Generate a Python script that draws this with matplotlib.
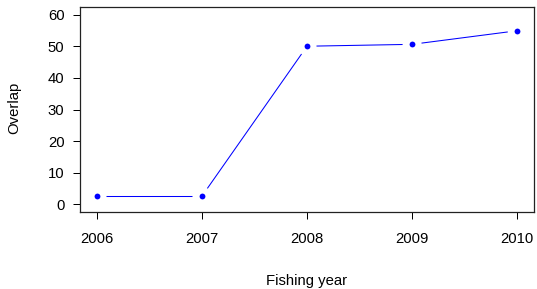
import numpy as np
import matplotlib
matplotlib.use('Agg')
import matplotlib.pyplot as plt

years = [2006, 2007, 2008, 2009, 2010]
overlap = [2.6, 2.6, 50.0, 50.6, 54.9]
yticks = [0, 10, 20, 30, 40, 50, 60]

plt.rcParams['font.family'] = ['Liberation Sans', 'DejaVu Sans']
fs = 10.7

W, H = 537, 289
fig = plt.figure(figsize=(W / 100, H / 100), dpi=100)
ax = fig.add_axes([80 / W, (H - 212) / H, (534 - 80) / W, (212 - 7) / H])
ax.set_xlim(2006 - 0.16, 2010 + 0.16)
ax.set_ylim(-2.4, 62.4)

# R style type="b": segments shortened so they stop short of the points
fig.canvas.draw()
pts = ax.transData.transform(np.column_stack([years, overlap]))
gap = 9.5
inv = ax.transData.inverted()
for i in range(len(pts) - 1):
    p0, p1 = pts[i], pts[i + 1]
    d = p1 - p0
    L = np.hypot(*d)
    if L <= 2 * gap:
        continue
    u = d / L
    a = inv.transform(p0 + u * gap)
    b = inv.transform(p1 - u * gap)
    ax.plot([a[0], b[0]], [a[1], b[1]], color='#0000ff', lw=0.75,
            solid_capstyle='butt')

ax.plot(years, overlap, 'o', color='#0000ff', ms=4.2, mec='#0000ff', mew=0)

ax.set_xticks(years)
ax.set_yticks(yticks)
ax.tick_params(axis='both', direction='out', length=5.2, width=0.72,
               labelsize=fs, colors='black')
ax.tick_params(axis='x', pad=9)
ax.tick_params(axis='y', pad=6)
for s in ax.spines.values():
    s.set_linewidth(0.9)
    s.set_color('#222222')

fig.text(307 / W, 1 - 281 / H, 'Fishing year', ha='center', va='center',
         fontsize=fs)
fig.text(14 / W, 1 - 108 / H, 'Overlap', ha='center', va='center',
         rotation=90, fontsize=fs)

fig.savefig('out.png', dpi=100)
